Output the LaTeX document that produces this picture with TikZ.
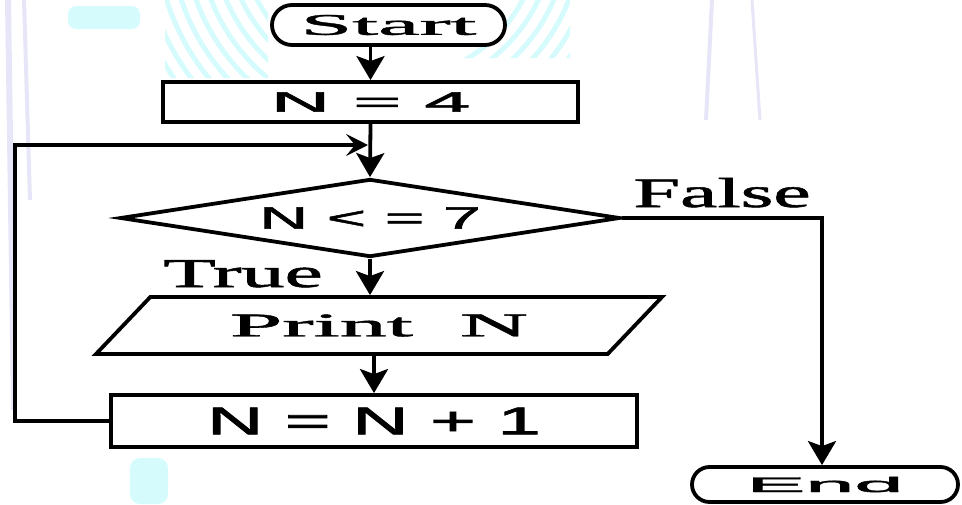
\documentclass[tikz,border=0pt]{standalone}
\usepackage{fontspec}
\usepackage{graphicx}
\setmainfont{Liberation Serif}
\newfontfamily\serb[FakeBold=1.2]{Liberation Serif}
\newfontfamily\sansf[FakeBold=1.6]{Liberation Sans}
\usetikzlibrary{shapes.geometric,arrows.meta}
\definecolor{wmcyan}{RGB}{214,251,253}
\definecolor{wmlav}{RGB}{230,230,248}
\begin{document}
\begin{tikzpicture}[x=1pt,y=-1pt,line width=3.8pt,
  flow/.style={-{Stealth[length=24pt,width=28pt,inset=5pt]}},
  loopar/.style={-{Stealth[length=22pt,width=22pt,inset=9pt]}},
  sbox/.style={draw,rectangle,inner sep=0pt,fill=white},
  sterm/.style={draw,rectangle,rounded corners=#1,inner sep=0pt,fill=white},
  lbl/.style={anchor=base,inner sep=0pt}]
\useasboundingbox (0,0) rectangle (962,504);
% faint watermark
\begin{scope}[line width=5pt,wmcyan]
  \clip (165,0) rectangle (268,78) (440,0) rectangle (570,58);
  \foreach \r in {150,164,...,262} \draw (390,-70) circle (\r);
\end{scope}
\fill[wmcyan,rounded corners=8pt] (68,6) rectangle (140,29);
\fill[wmcyan,rounded corners=10pt] (130,458) rectangle (168,504);
\draw[wmlav,line width=6pt] (8,0) -- (14,410);
\draw[wmlav,line width=4pt] (24,0) -- (30,200);
\draw[wmlav,line width=4pt] (712,0) -- (706,120);
\draw[wmlav,line width=3pt] (752,0) -- (760,120);
% shapes
\node[sterm=20pt,minimum width=233pt,minimum height=40pt] (start) at (388.5,25)
  {\serb\fontsize{30}{36}\selectfont\scalebox{3.1}[1]{Start}\hspace{18pt}};
\node[sbox,minimum width=415pt,minimum height=40pt] (n4) at (370.5,102)
  {\sansf\fontsize{28}{34}\selectfont\scalebox{2.95}[1]{N = 4}\hspace{18pt}};
\node[draw,diamond,aspect=6.41,minimum width=500pt,minimum height=78pt,inner sep=0pt,fill=white] (dia) at (370,218)
  {\sansf\fontsize{30.7}{36}\selectfont\scalebox{2.2}[1]{N < = 7}};
\node[draw,trapezium,trapezium left angle=22.2,trapezium right angle=157.8,
  trapezium stretches body,minimum width=566pt,minimum height=57pt,inner sep=0pt,fill=white] (print) at (379,325.5)
  {\serb\fontsize{33}{40}\selectfont\scalebox{2.85}[1]{Print\hspace{0.5em}N}};
\node[sbox,minimum width=526pt,minimum height=52pt] (inc) at (374,421)
  {\sansf\fontsize{39}{46}\selectfont\scalebox{2}[1]{N = N + 1}};
\node[sterm=17.5pt,minimum width=266pt,minimum height=35pt] (end) at (825,484.5)
  {\sansf\fontsize{21}{25}\selectfont\scalebox{4.2}[1]{End}};
% labels
\node[lbl] (lfalse) at (722,207) {\serb\fontsize{42}{48}\selectfont\scalebox{2}[1]{False}};
\node[lbl] (ltrue) at (243,287) {\serb\fontsize{41}{48}\selectfont\scalebox{2.1}[1]{True}};
% connectors
\coordinate (lc) at (15,145);
\coordinate (lt) at (368,145);
\coordinate (fc) at (822,218);
\draw[flow] (start.south -| n4.north) -- (n4.north);
\draw[flow] (n4.south) -- (dia.north);
\draw[loopar] (inc.west) -| (lc) -- (lt);
\draw[flow] (dia.east) -- (fc) -- (fc |- end.north);
\draw[flow] (dia.south) -- (dia.south |- print.north);
\draw[flow] (print.south -| inc.north) -- (inc.north);
\end{tikzpicture}
\end{document}
